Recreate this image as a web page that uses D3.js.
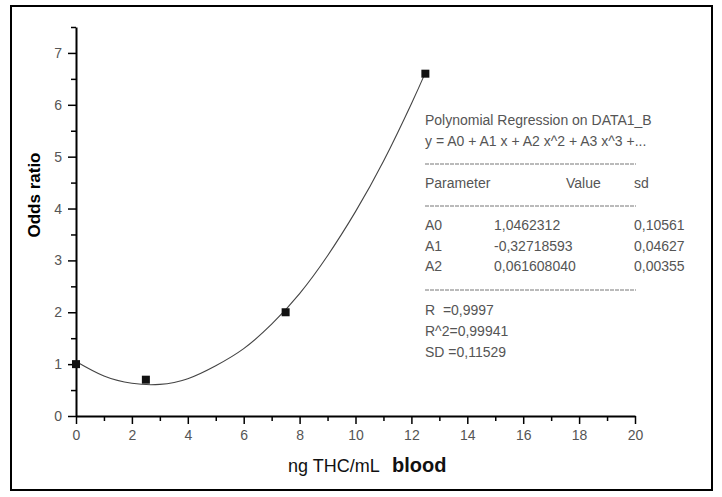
<!DOCTYPE html>
<html lang="en">
<head>
    <meta charset="UTF-8">
    <title>Odds ratio vs THC</title>
    <script src="https://cdnjs.cloudflare.com/ajax/libs/d3/7.8.5/d3.min.js"></script>
    <style>
        body { margin: 0; background: #fff; }
        text { font-family: "Liberation Sans", Arial, sans-serif; }
    </style>
</head>
<body>
<div id="chart"></div>
<script>
    // measured points
    const thcLevels = [0, 2.5, 7.5, 12.5]
    const oddsRatios = [1.0, 0.7, 2.0, 6.6]

    // fitted curve
    const fitX = [0, 1, 2, 3, 4, 5, 6, 7, 8, 9, 10, 11, 12, 12.5]
    const fitY = [1.05, 0.77, 0.63, 0.61, 0.72, 0.97, 1.3, 1.77, 2.36, 3.09, 3.94, 4.91, 6.02, 6.62]

    const xTicks = [0, 2, 4, 6, 8, 10, 12, 14, 16, 18, 20]
    const xMinor = [1, 3, 5, 7, 9, 11, 13, 15, 17, 19]
    const yTicks = [0, 1, 2, 3, 4, 5, 6, 7]
    const yMinor = [0.5, 1.5, 2.5, 3.5, 4.5, 5.5, 6.5, 7.5]

    // regression report
    const reportHead = ["Polynomial Regression on DATA1_B", "y = A0 + A1 x + A2 x^2 + A3 x^3 +..."]
    const paramNames = ["A0", "A1", "A2"]
    const paramValues = ["1,0462312", "-0,32718593", "0,061608040"]
    const paramSd = ["0,10561", "0,04627", "0,00355"]
    const fitStats = ["R  =0,9997", "R^2=0,99941", "SD =0,11529"]

    const W = 722, H = 497
    const plotL = 76, plotR = 635, plotT = 27, plotB = 416

    const svg = d3.select("#chart").append("svg").attr("width", W).attr("height", H)

    svg.append("rect").attr("x", 11).attr("y", 6).attr("width", 701).attr("height", 484)
        .attr("fill", "none").attr("stroke", "#000").attr("stroke-width", 2)

    const x = d3.scaleLinear().domain([0, 20]).range([plotL, plotR])
    const y = d3.scaleLinear().domain([0, 7.5]).range([plotB, plotT])

    const labelColor = "#555"

    // minor ticks first, then the major axis on top
    svg.append("g").attr("transform", `translate(0,${plotB})`)
        .call(d3.axisBottom(x).tickValues(xMinor).tickSize(5).tickFormat(""))
        .call(g => g.select(".domain").remove())
        .call(g => g.selectAll("line").attr("stroke-width", 1.5))
    svg.append("g").attr("transform", `translate(${plotL},0)`)
        .call(d3.axisLeft(y).tickValues(yMinor).tickSize(5).tickFormat(""))
        .call(g => g.select(".domain").remove())
        .call(g => g.selectAll("line").attr("stroke-width", 1.5))

    const xAxis = svg.append("g").attr("transform", `translate(0,${plotB})`)
        .call(d3.axisBottom(x).tickValues(xTicks).tickSize(8).tickSizeOuter(0).tickPadding(6).tickFormat(d3.format("d")))
    const yAxis = svg.append("g").attr("transform", `translate(${plotL},0)`)
        .call(d3.axisLeft(y).tickValues(yTicks).tickSize(8).tickSizeOuter(0).tickPadding(6).tickFormat(d3.format("d")))

    ;[xAxis, yAxis].forEach(g => {
        g.select(".domain").attr("stroke-width", 2)
        g.selectAll(".tick line").attr("stroke-width", 1.5)
        g.selectAll(".tick text").attr("font-size", 14).attr("fill", labelColor)
    })

    // axis titles
    svg.append("text").attr("transform", `translate(36,195) rotate(-90)`)
        .attr("text-anchor", "middle").attr("dominant-baseline", "middle")
        .attr("font-size", 17).attr("font-weight", "bold").text("Odds ratio")

    const xt = svg.append("text").attr("x", 288).attr("y", 472).attr("fill", "#111")
    xt.append("tspan").attr("font-size", 18).text("ng THC/mL ")
    xt.append("tspan").attr("dx", 8).attr("font-size", 20).attr("font-weight", "bold").text("blood")

    // fitted curve
    const line = d3.line().x((d, i) => x(fitX[i])).y(d => y(d)).curve(d3.curveNatural)
    svg.append("path").datum(fitY).attr("d", line)
        .attr("fill", "none").attr("stroke", "#444").attr("stroke-width", 1.1)

    // points
    const sz = 8
    svg.selectAll("rect.pt").data(oddsRatios).join("rect").attr("class", "pt")
        .attr("x", (d, i) => x(thcLevels[i]) - sz / 2)
        .attr("y", d => y(d) - sz / 2)
        .attr("width", sz).attr("height", sz).attr("fill", "#111")

    // regression report box
    const rep = svg.append("g").attr("font-size", 14).attr("fill", labelColor)
    const tx = 425
    reportHead.forEach((t, i) => rep.append("text").attr("x", tx).attr("y", 125 + i * 21).text(t))

    const dash = yy => rep.append("line").attr("x1", tx).attr("x2", 636).attr("y1", yy).attr("y2", yy)
        .attr("stroke", "#777").attr("stroke-width", 1).attr("stroke-dasharray", "4,1")
    dash(164)
    rep.append("text").attr("x", tx).attr("y", 188).text("Parameter")
    rep.append("text").attr("x", 566).attr("y", 188).text("Value")
    rep.append("text").attr("x", 634).attr("y", 188).text("sd")
    dash(206)
    paramNames.forEach((p, i) => {
        const yy = 230 + i * 20.5
        rep.append("text").attr("x", tx).attr("y", yy).text(p)
        rep.append("text").attr("x", 494).attr("y", yy).text(paramValues[i])
        rep.append("text").attr("x", 634).attr("y", yy).text(paramSd[i])
    })
    dash(290)
    fitStats.forEach((s, i) => rep.append("text").attr("x", tx).attr("y", 315 + i * 21)
        .attr("xml:space", "preserve").style("white-space", "pre").text(s))
</script>
</body>
</html>
